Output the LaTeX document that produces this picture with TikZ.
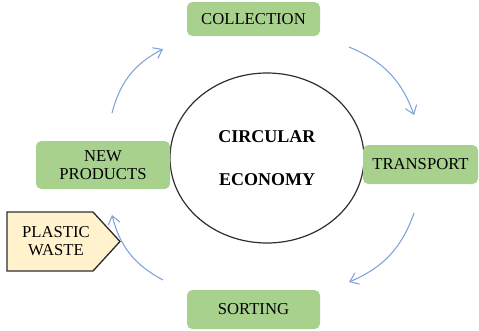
\documentclass[tikz,border=0pt]{standalone}
\usepackage{fontspec}
\setmainfont{Liberation Serif}
\usetikzlibrary{arrows.meta, shapes, positioning}
\definecolor{stagegreen}{HTML}{A9D18E}
\definecolor{wastecream}{HTML}{FFF2CC}
\definecolor{cycleblue}{HTML}{7FA2DC}
\definecolor{rimgray}{HTML}{2E2E2E}

\begin{document}
\begin{tikzpicture}[x=0.75pt, y=0.75pt,
  stagebox/.style={fill=stagegreen, rounded corners=4pt, inner sep=0pt, align=center,
    font=\fontsize{12.5}{13.5}\selectfont},
  cyclearrow/.style={draw=cycleblue, line width=0.8pt, -{Straight Barb[length=6pt, width=9pt]}, bend left=24}]
  \useasboundingbox (0,0) rectangle (479,330);
  % economy in the middle
  \node[draw=rimgray, line width=0.9pt, ellipse, minimum width=145.5pt, minimum height=127.5pt, align=center,
    font=\fontsize{13.5}{15}\selectfont\bfseries] (economy) at (267,172) {CIRCULAR\\[17pt]ECONOMY};
  % the four stages
  \node[stagebox, minimum width=99.75pt, minimum height=25.5pt] (collection) at (253.5,311) {COLLECTION};
  \node[stagebox, minimum width=86.25pt, minimum height=29.25pt] (transport) at (420.5,165.5) {TRANSPORT};
  \node[stagebox, minimum width=99.75pt, minimum height=29.25pt] (sorting) at (253.5,20.5) {SORTING};
  \node[stagebox, minimum width=100.5pt, minimum height=36pt] (products) at (103,165) {NEW\\PRODUCTS};
  % input tag
  \draw[draw=rimgray, line width=1pt, fill=wastecream, line join=miter]
    (7,118) -- (93,118) -- (120,88.5) -- (93,59) -- (7,59) -- cycle;
  \node[align=center, font=\fontsize{12.5}{13.5}\selectfont] (waste) at (56,88.5) {PLASTIC\\WASTE};
  % arrows round the loop
  \coordinate (c1s) at (112,217);
  \coordinate (c1e) at (163,281);
  \coordinate (c2s) at (349,283);
  \coordinate (c2e) at (414,215);
  \coordinate (c3s) at (414,117);
  \coordinate (c3e) at (349,48);
  \coordinate (c4s) at (163,50);
  \coordinate (c4e) at (112,115);
  \draw[cyclearrow] (c1s) to (c1e);
  \draw[cyclearrow] (c2s) to (c2e);
  \draw[cyclearrow] (c3s) to (c3e);
  \draw[cyclearrow] (c4s) to (c4e);
\end{tikzpicture}
\end{document}
